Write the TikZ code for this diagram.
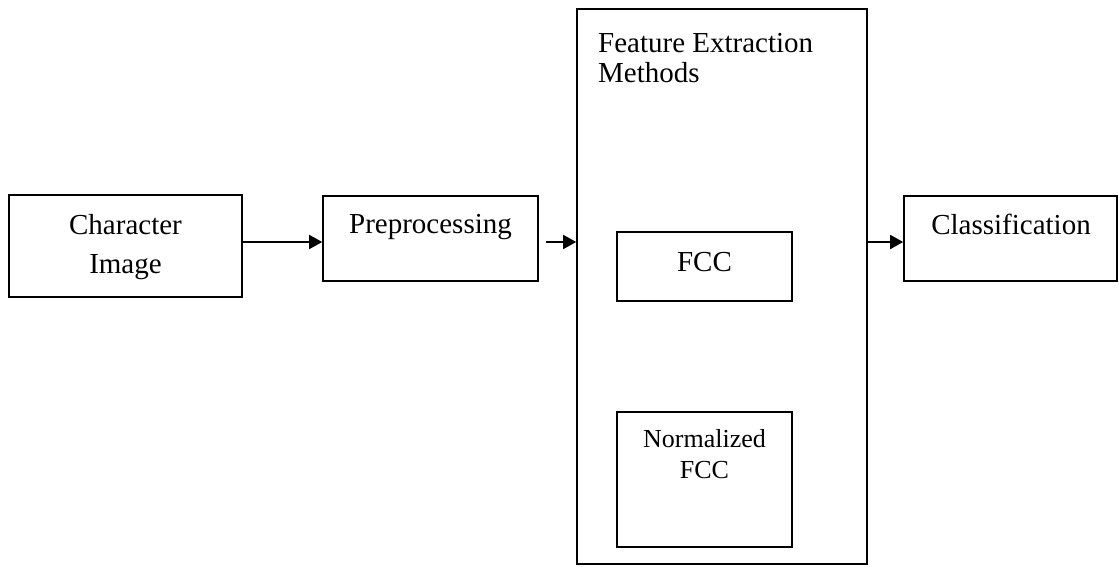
\documentclass[tikz,border=0pt]{standalone}
\usepackage{fontspec}
\setmainfont{Liberation Serif}
\usetikzlibrary{arrows.meta,calc}

\tikzset{
  box/.style={draw=black, line width=1.6pt, rectangle, inner sep=0pt, fill=white},
  lbl/.style={inner sep=0pt, font=\fontsize{29}{34}\selectfont, anchor=base},
  lblsmall/.style={inner sep=0pt, font=\fontsize{26}{31}\selectfont, anchor=base},
  arr/.style={line width=1.6pt, -{Triangle[length=13pt,width=14pt]}},
}

\begin{document}
\begin{tikzpicture}[x=1pt, y=-1pt]
  \useasboundingbox (0,0) rectangle (1119,566);

  % blocks of the pipeline
  \node[box, minimum width=233pt, minimum height=102pt] (ci)   at (125.5,246) {};
  \node[box, minimum width=215pt, minimum height=85pt]  (pre)  at (430.5,238.5) {};
  \node[box, minimum width=290pt, minimum height=555pt] (fem)  at (722,286.5) {};
  \node[box, minimum width=175pt, minimum height=69pt]  (fcc)  at (704.5,266.5) {};
  \node[box, minimum width=175pt, minimum height=135pt] (nfcc) at (704.5,479.5) {};
  \node[box, minimum width=213pt, minimum height=85pt]  (cls)  at (1010.5,238.5) {};

  % labels
  \node[lbl] (ciA)  at (125.5,234) {Character};
  \node[lbl] (ciB)  at (125.5,273) {Image};
  \node[lbl] (preA) at (430.5,233) {Preprocessing};
  \node[lbl, anchor=base west] (femA) at (598,52) {Feature Extraction};
  \node[lbl, anchor=base west] (femB) at (598,82) {Methods};
  \node[lbl] (fccA) at (704.5,271) {FCC};
  \node[lblsmall] (nfccA) at (704.5,447) {Normalized};
  \node[lblsmall] (nfccB) at (704.5,478) {FCC};
  \node[lbl] (clsA) at (1011,234) {Classification};

  % connectors along one row
  \coordinate (row) at (0,242);
  \draw[arr] (ci.east |- row) -- (pre.west |- row);
  \draw[arr, shorten <=7pt] (pre.east |- row) -- (fem.west |- row);
  \draw[arr] (fem.east |- row) -- (cls.west |- row);
\end{tikzpicture}
\end{document}
